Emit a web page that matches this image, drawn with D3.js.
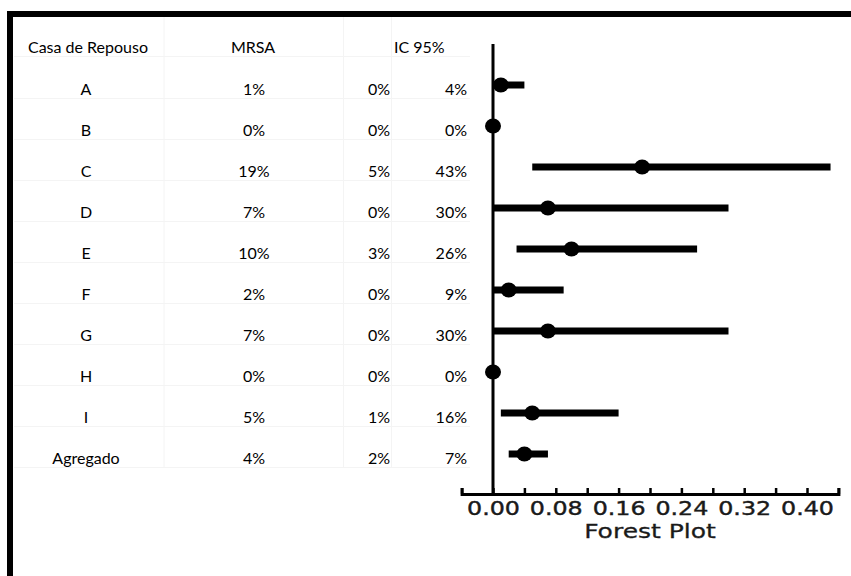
<!DOCTYPE html>
<html>
<head>
<meta charset="utf-8">
<script src="https://cdn.jsdelivr.net/npm/d3@7"></script>
<style>
  body { margin: 0; background: #fff; }
</style>
</head>
<body>
<div id="grafico"></div>
<script>
// Dados
const casas = ['A', 'B', 'C', 'D', 'E', 'F', 'G', 'H', 'I', 'Agregado'];
const mrsa = [0.01, 0.00, 0.19, 0.07, 0.10, 0.02, 0.07, 0.00, 0.05, 0.04];
const icInf = [0.00, 0.00, 0.05, 0.00, 0.03, 0.00, 0.00, 0.00, 0.01, 0.02];
const icSup = [0.04, 0.00, 0.43, 0.30, 0.26, 0.09, 0.30, 0.00, 0.16, 0.07];

const cabecalho = ['Casa de Repouso', 'MRSA', 'IC 95%'];
const ticksMenores = [-0.04, 0, 0.04, 0.08, 0.12, 0.16, 0.20, 0.24, 0.28, 0.32, 0.36, 0.40, 0.44];
const ticksRotulo = [0, 0.08, 0.16, 0.24, 0.32, 0.40];
const tituloX = 'Forest Plot';

const width = 851, height = 576;
const pct = d3.format('.0%');

let svg = d3.select('#grafico').append('svg')
    .attr('width', width)
    .attr('height', height);

// Escalas
let x = d3.scaleLinear().domain([0, 0.40]).range([493, 807]);
let y = d3.scalePoint().domain(casas).range([85, 454]);
const dyTexto = 3; // texto fica um pouco abaixo do ponto

// Grade quase invisível da tabela
let grade = svg.append('g').attr('stroke', '#f4f4f4').attr('stroke-width', 1);
[46].concat(casas.map(c => y(c) + dyTexto)).forEach(v => {
    grade.append('line').attr('x1', 14).attr('x2', 470)
        .attr('y1', v + 10.5).attr('y2', v + 10.5);
});
[164, 343.5, 391.5].forEach(v => {
    grade.append('line').attr('x1', v).attr('x2', v)
        .attr('y1', 17).attr('y2', 468);
});

// Moldura (topo e esquerda)
svg.append('rect').attr('x', 7).attr('y', 11).attr('width', width - 7).attr('height', 6).attr('fill', '#000');
svg.append('rect').attr('x', 7).attr('y', 11).attr('width', 6).attr('height', height - 11).attr('fill', '#000');

// Tabela
let tabela = svg.append('g')
    .style('font-family', 'Lato, "Open Sans", sans-serif')
    .style('font-size', '16px')
    .attr('fill', '#000');

tabela.append('text').attr('x', 88).attr('y', 46).attr('dominant-baseline', 'central')
    .attr('text-anchor', 'middle').text(cabecalho[0]);
tabela.append('text').attr('x', 253).attr('y', 46).attr('dominant-baseline', 'central')
    .attr('text-anchor', 'middle').text(cabecalho[1]);
tabela.append('text').attr('x', 394).attr('y', 46).attr('dominant-baseline', 'central')
    .attr('text-anchor', 'start').text(cabecalho[2]);

let linhas = tabela.selectAll('g.linha')
    .data(casas)
    .enter().append('g')
    .attr('class', 'linha')
    .attr('transform', d => `translate(0, ${y(d) + dyTexto})`);

linhas.append('text').attr('x', 86).attr('text-anchor', 'middle')
    .attr('dominant-baseline', 'central').text(d => d);
linhas.append('text').attr('x', 254).attr('text-anchor', 'middle')
    .attr('dominant-baseline', 'central').text((d, i) => pct(mrsa[i]));
linhas.append('text').attr('x', 390).attr('text-anchor', 'end')
    .attr('dominant-baseline', 'central').text((d, i) => pct(icInf[i]));
linhas.append('text').attr('x', 467).attr('text-anchor', 'end')
    .attr('dominant-baseline', 'central').text((d, i) => pct(icSup[i]));

// Linha vertical em zero
let eixoY = 494;
svg.append('line')
    .attr('x1', x(0)).attr('x2', x(0))
    .attr('y1', 44).attr('y2', eixoY)
    .attr('stroke', '#000').attr('stroke-width', 3);

// Intervalos de confiança
svg.append('g').selectAll('line')
    .data(casas)
    .enter().append('line')
    .attr('x1', (d, i) => x(icInf[i]))
    .attr('x2', (d, i) => x(icSup[i]))
    .attr('y1', d => y(d)).attr('y2', d => y(d))
    .attr('stroke', '#000').attr('stroke-width', 7);

// Estimativas pontuais
svg.append('g').selectAll('ellipse')
    .data(casas)
    .enter().append('ellipse')
    .attr('cx', (d, i) => x(mrsa[i]))
    .attr('cy', d => y(d))
    .attr('rx', 8).attr('ry', 7.5)
    .attr('fill', '#000');

// Eixo x
let xEixo = d3.scaleLinear()
    .domain([ticksMenores[0], ticksMenores[ticksMenores.length - 1]])
    .range([x(ticksMenores[0]), x(ticksMenores[ticksMenores.length - 1])]);

let eixo = svg.append('g')
    .attr('transform', `translate(0, ${eixoY})`)
    .call(d3.axisBottom(xEixo)
        .tickValues(ticksMenores)
        .tickSizeInner(-6)
        .tickSizeOuter(-6)
        .tickPadding(8)
        .tickFormat(d => ticksRotulo.some(t => Math.abs(t - d) < 1e-9) ? d3.format('.2f')(d) : ''));

eixo.select('.domain').attr('stroke', '#000').attr('stroke-width', 3);
eixo.selectAll('.tick line').attr('stroke', '#000').attr('stroke-width', 2.5);
eixo.selectAll('.tick text')
    .attr('transform', 'scale(1.25,1)')
    .style('font-family', '"DejaVu Sans", Verdana, sans-serif')
    .style('font-size', '19px')
    .attr('fill', '#1a1a1a')
    .attr('stroke', '#1a1a1a')
    .attr('stroke-width', 0.4);

// Título do eixo x
svg.append('text')
    .attr('transform', `translate(${(x(0) + x(0.40)) / 2}, 538) scale(1.25,1)`)
    .attr('text-anchor', 'middle')
    .style('font-family', '"DejaVu Sans", Verdana, sans-serif')
    .style('font-size', '20px')
    .attr('fill', '#1a1a1a')
    .attr('stroke', '#1a1a1a')
    .attr('stroke-width', 0.3)
    .text(tituloX);
</script>
</body>
</html>
